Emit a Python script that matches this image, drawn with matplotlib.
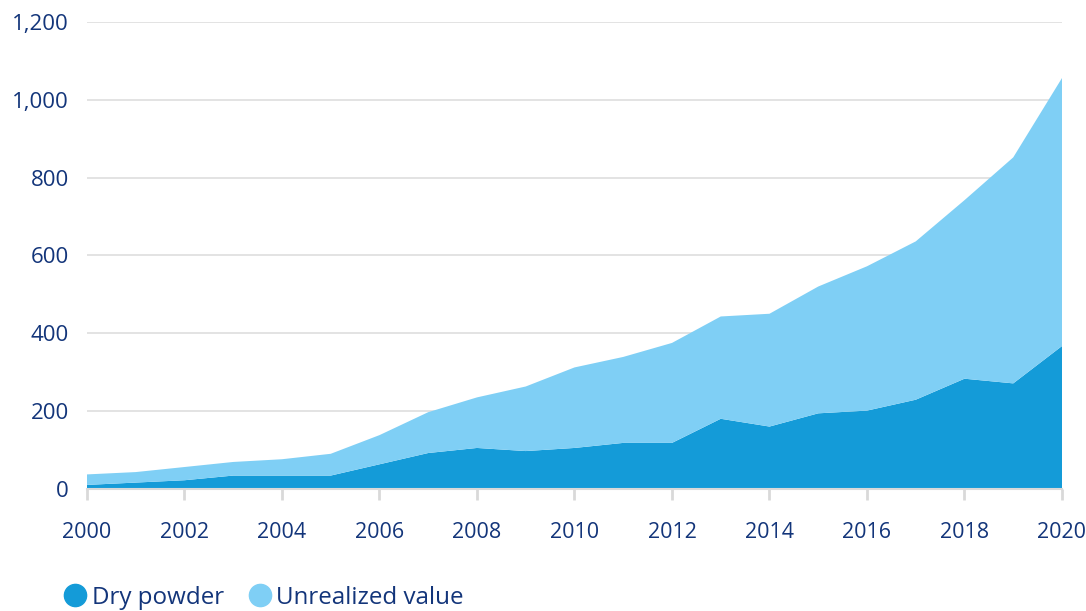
import matplotlib.pyplot as plt
from matplotlib.lines import Line2D

years = list(range(2000, 2021))
dry_powder = [10, 16, 22, 34, 34, 34, 63, 92, 105, 97, 105, 118, 118, 180,
              160, 194, 201, 229, 283, 271, 367]
total = [37, 43, 56, 69, 76, 90, 138, 197, 235, 263, 312, 339, 375, 443,
         450, 520, 572, 636, 742, 852, 1056]
unrealized = [t - d for t, d in zip(total, dry_powder)]

dark_blue = '#149BD8'
light_blue = '#7FCFF5'
text_col = '#13357A'

plt.rcParams['font.family'] = ['Open Sans', 'DejaVu Sans']

fig = plt.figure(figsize=(10.86, 6.11), dpi=100)
ax = fig.add_axes([0.0801, 0.2, 0.8978, 0.764])

ax.stackplot(years, dry_powder, unrealized, colors=[dark_blue, light_blue],
             linewidth=0, zorder=2)

ax.set_xlim(2000, 2020)
ax.set_ylim(0, 1200)
ax.set_xticks(range(2000, 2021, 2))
ax.set_yticks(range(0, 1201, 200))
ax.set_yticklabels([f'{v:,}' for v in range(0, 1201, 200)])

ax.grid(axis='y', color='#E0E0E0', linewidth=1.3, zorder=0)
ax.set_axisbelow(True)
for s in ['top', 'right', 'left']:
    ax.spines[s].set_visible(False)
ax.spines['bottom'].set_color('#D9D9D9')
ax.spines['bottom'].set_linewidth(1.5)

ax.tick_params(axis='y', length=0, pad=13, labelsize=16, labelcolor=text_col)
ax.tick_params(axis='x', length=8, width=2, color='#D9D9D9', pad=16,
               labelsize=15.5, labelcolor=text_col)

handles = [Line2D([], [], marker='o', linestyle='none', markersize=16,
                  markerfacecolor=dark_blue, markeredgecolor=dark_blue),
           Line2D([], [], marker='o', linestyle='none', markersize=16,
                  markerfacecolor=light_blue, markeredgecolor=light_blue)]
leg = fig.legend(handles, ['Dry powder', 'Unrealized value'], loc='center left',
                 bbox_to_anchor=(0.045, 0.022), ncol=2, frameon=False,
                 fontsize=17.4, handletextpad=0.1, columnspacing=0.85,
                 handlelength=1.2, borderpad=0)
for t in leg.get_texts():
    t.set_color(text_col)

fig.savefig('out.png', dpi=100)
